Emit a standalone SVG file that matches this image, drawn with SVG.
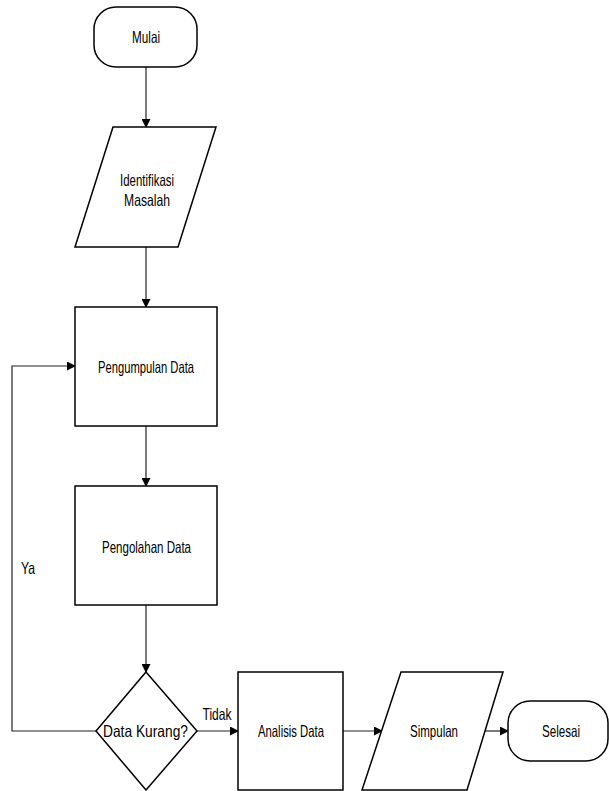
<svg xmlns="http://www.w3.org/2000/svg" width="609" height="791" viewBox="0 0 609 791">
<style>
.s{fill:#fff;stroke:#000;stroke-width:1.5}
.c{fill:none;stroke:#222;stroke-width:1.2}
.t{font-family:"Liberation Sans",Arial,sans-serif;font-size:16.5px;fill:#000;text-anchor:middle}
</style>
<defs>
<marker id="a" markerWidth="9" markerHeight="9" refX="8" refY="4.5" orient="auto" markerUnits="userSpaceOnUse">
<path d="M0,0 L9,4.5 L0,9 Z" fill="#000"/>
</marker>
</defs>
<rect width="609" height="791" fill="#fff"/>
<g id="connectors">
<line class="c" x1="146" y1="67" x2="146" y2="127" marker-end="url(#a)"/>
<line class="c" x1="146" y1="247" x2="146" y2="307" marker-end="url(#a)"/>
<line class="c" x1="146" y1="426" x2="146" y2="486" marker-end="url(#a)"/>
<line class="c" x1="146" y1="605" x2="146" y2="672" marker-end="url(#a)"/>
<polyline class="c" points="96,731 12,731 12,366 75,366" marker-end="url(#a)"/>
<line class="c" x1="197" y1="731" x2="238" y2="731" marker-end="url(#a)"/>
<line class="c" x1="343" y1="731" x2="382" y2="731" marker-end="url(#a)"/>
<line class="c" x1="485" y1="731" x2="508" y2="731" marker-end="url(#a)"/>
<text class="t" x="28" y="574" textLength="14" lengthAdjust="spacingAndGlyphs">Ya</text>
<text class="t" x="217" y="720" textLength="29" lengthAdjust="spacingAndGlyphs">Tidak</text>
</g>
<g id="mulai">
<rect class="s" x="94" y="7" width="103" height="60" rx="22" ry="22"/>
<text class="t" x="146" y="43" textLength="28" lengthAdjust="spacingAndGlyphs">Mulai</text>
</g>
<g id="identifikasi">
<polygon class="s" points="113,127 216,127 178,247 75,247"/>
<text class="t" x="147" y="186" textLength="54" lengthAdjust="spacingAndGlyphs">Identifikasi</text>
<text class="t" x="147" y="206" textLength="46" lengthAdjust="spacingAndGlyphs">Masalah</text>
</g>
<g id="pengumpulan">
<rect class="s" x="75" y="307" width="142" height="119"/>
<text class="t" x="146" y="373" textLength="96" lengthAdjust="spacingAndGlyphs">Pengumpulan Data</text>
</g>
<g id="pengolahan">
<rect class="s" x="75" y="486" width="142" height="119"/>
<text class="t" x="146.5" y="553" textLength="89" lengthAdjust="spacingAndGlyphs">Pengolahan Data</text>
</g>
<g id="decision">
<polygon class="s" points="146,672 197,731 146,790 96,731"/>
<text class="t" x="145.5" y="737" textLength="85" lengthAdjust="spacingAndGlyphs">Data Kurang?</text>
</g>
<g id="analisis">
<rect class="s" x="238" y="672" width="105" height="118"/>
<text class="t" x="291" y="737" textLength="66" lengthAdjust="spacingAndGlyphs">Analisis Data</text>
</g>
<g id="simpulan">
<polygon class="s" points="401,672 503,672 467,790 362,790"/>
<text class="t" x="434" y="737" textLength="48" lengthAdjust="spacingAndGlyphs">Simpulan</text>
</g>
<g id="selesai">
<rect class="s" x="508" y="701" width="100" height="60" rx="22" ry="22"/>
<text class="t" x="561" y="737" textLength="38" lengthAdjust="spacingAndGlyphs">Selesai</text>
</g>
</svg>
